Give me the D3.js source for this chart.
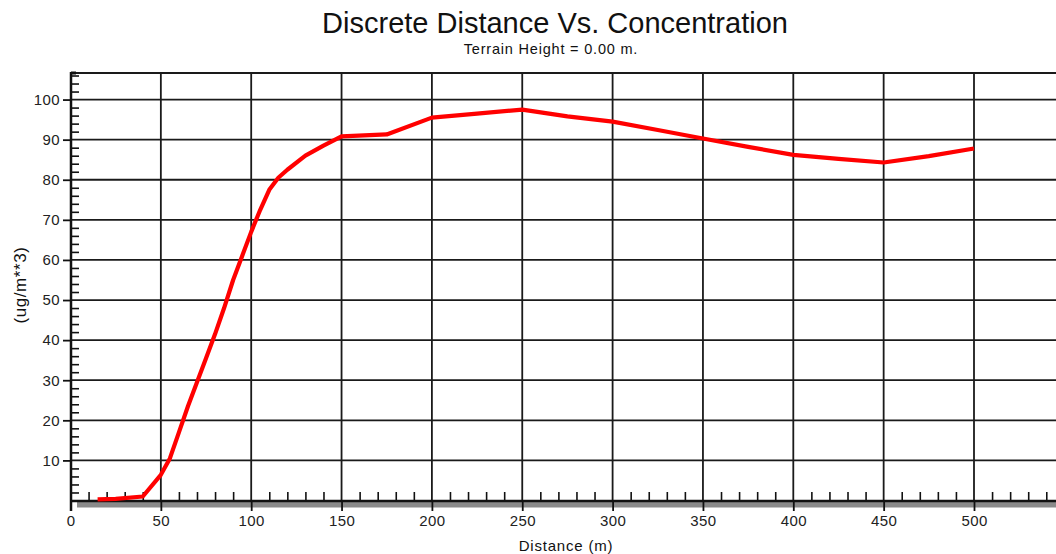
<!DOCTYPE html>
<html>
<head>
<meta charset="utf-8">
<script src="https://cdn.jsdelivr.net/npm/d3@7"></script>
<style>
  html, body { margin: 0; padding: 0; background: #fff; }
  svg { display: block; font-family: "Liberation Sans", Arial, sans-serif; }
</style>
</head>
<body>
<svg id="chart" width="1056" height="554"></svg>
<script>
// ---- data ----
const distances = [15, 25, 40, 50, 55, 60, 65, 70, 75, 80, 85, 90, 95, 100, 105, 110, 115, 120, 130, 140, 150, 175, 200, 225, 250, 275, 300, 325, 350, 375, 400, 425, 450, 475, 500];
const concentration = [0.3, 0.4, 1.0, 6.4, 10.5, 17, 23.5, 29.5, 35.5, 41.5, 48, 55, 61, 67, 72.5, 77.5, 80.5, 82.5, 86, 88.5, 90.8, 91.3, 95.5, 96.5, 97.5, 95.8, 94.5, 92.4, 90.3, 88.2, 86.2, 85.2, 84.3, 85.9, 87.8];
const xMajorTicks = [0, 50, 100, 150, 200, 250, 300, 350, 400, 450, 500];
const yMajorTicks = [10, 20, 30, 40, 50, 60, 70, 80, 90, 100];
const titleText = "Discrete Distance Vs. Concentration";
const subtitleText = "Terrain Height = 0.00 m.";
const xLabel = "Distance (m)";
const yLabel = "(ug/m**3)";

(function () {
// ---- layout ----
const W = 1056, H = 554;
const pLeft = 71, pBottom = 501, pTop = 73;
const x = d3.scaleLinear().domain([0, 550]).range([70.5, 70.5 + 550 * 1.807]);
const y = d3.scaleLinear().domain([0, 106.7]).range([500.5, 72.7]);
const font = "'Liberation Sans', Arial, sans-serif";

const svg = d3.select("#chart");
svg.append("rect").attr("width", W).attr("height", H).attr("fill", "#fff");

// title
svg.append("text").attr("x", 555).attr("y", 33).attr("text-anchor", "middle")
  .attr("font-size", 29).attr("fill", "#111").text(titleText);
svg.append("text").attr("x", 551).attr("y", 54).attr("text-anchor", "middle")
  .attr("font-size", 14.5).attr("letter-spacing", 0.8).attr("fill", "#111").text(subtitleText);

// shadow under x axis
svg.append("rect").attr("x", 77).attr("y", 502).attr("width", W - 77).attr("height", 5.5).attr("fill", "#8a8a8a");

// gridlines
const grid = svg.append("g");
grid.selectAll("line.v").data(xMajorTicks.filter(d => d > 0)).join("line")
  .attr("x1", d => x(d)).attr("x2", d => x(d)).attr("y1", pTop).attr("y2", pBottom)
  .attr("stroke", "#1a1a1a").attr("stroke-width", 1.8);
grid.selectAll("line.h").data(yMajorTicks).join("line")
  .attr("x1", pLeft).attr("x2", W).attr("y1", d => y(d)).attr("y2", d => y(d))
  .attr("stroke", "#1a1a1a").attr("stroke-width", 1.8);
// top border
grid.append("line").attr("x1", pLeft).attr("x2", W).attr("y1", pTop).attr("y2", pTop)
  .attr("stroke", "#1a1a1a").attr("stroke-width", 1.8);

// minor ticks (inside)
const xMinor = d3.range(0, 551, 10).filter(d => d % 50 !== 0);
const yMinor = d3.range(2, 107, 2).filter(d => d % 10 !== 0);
svg.append("g").attr("transform", `translate(0,${pBottom})`)
  .call(d3.axisTop(x).tickValues(xMinor).tickSize(9).tickFormat(""))
  .call(g => g.select(".domain").remove())
  .call(g => g.selectAll("line").attr("stroke", "#111").attr("stroke-width", 1.6));
svg.append("g").attr("transform", `translate(${pLeft},0)`)
  .call(d3.axisRight(y).tickValues(yMinor).tickSize(8).tickFormat(""))
  .call(g => g.select(".domain").remove())
  .call(g => g.selectAll("line").attr("stroke", "#111").attr("stroke-width", 1.6));

// major axes with labels
svg.append("g").attr("transform", `translate(0,${pBottom})`)
  .call(d3.axisBottom(x).tickValues(xMajorTicks).tickSize(10).tickPadding(4).tickFormat(d3.format("d")))
  .call(g => g.select(".domain").remove())
  .call(g => g.selectAll("line").attr("stroke", "#111").attr("stroke-width", 1.8))
  .call(g => g.selectAll("text").attr("font-size", 15).attr("letter-spacing", 0.4).attr("fill", "#222")
    .attr("font-family", font));
svg.append("g").attr("transform", `translate(${pLeft},0)`)
  .call(d3.axisLeft(y).tickValues(yMajorTicks).tickSize(8).tickPadding(3).tickFormat(d3.format("d")))
  .call(g => g.select(".domain").remove())
  .call(g => g.selectAll("line").attr("stroke", "#111").attr("stroke-width", 1.8))
  .call(g => g.selectAll("text").attr("font-size", 15).attr("letter-spacing", 0.4).attr("fill", "#222")
    .attr("font-family", font));

// axis lines
svg.append("line").attr("x1", pLeft).attr("x2", W).attr("y1", pBottom).attr("y2", pBottom)
  .attr("stroke", "#111").attr("stroke-width", 2.5);
svg.append("line").attr("x1", pLeft).attr("x2", pLeft).attr("y1", pTop - 1).attr("y2", pBottom + 10)
  .attr("stroke", "#111").attr("stroke-width", 2.5);
svg.append("rect").attr("x", pLeft).attr("y", pTop - 1.5).attr("width", 5).attr("height", 3).attr("fill", "#111");

// axis titles
svg.append("text").attr("x", 566).attr("y", 551).attr("text-anchor", "middle")
  .attr("font-size", 15).attr("letter-spacing", 0.8).attr("fill", "#111").text(xLabel);
const defs = svg.append("defs");
defs.append("clipPath").attr("id", "ylabclip").append("rect")
  .attr("x", 12).attr("y", 200).attr("width", 40).attr("height", 160);
svg.append("g").attr("clip-path", "url(#ylabclip)")
  .append("text").attr("transform", "translate(26,285) rotate(-90)")
  .attr("text-anchor", "middle").attr("font-size", 17).attr("letter-spacing", 0.6).attr("fill", "#111").text(yLabel);

// data line
const line = d3.line().x((d, i) => x(distances[i])).y(d => y(d));
svg.append("path").datum(concentration).attr("d", line)
  .attr("fill", "none").attr("stroke", "#ff0000").attr("stroke-width", 4.2)
  .attr("stroke-linejoin", "round").attr("stroke-linecap", "butt");
})();
</script>
</body>
</html>
